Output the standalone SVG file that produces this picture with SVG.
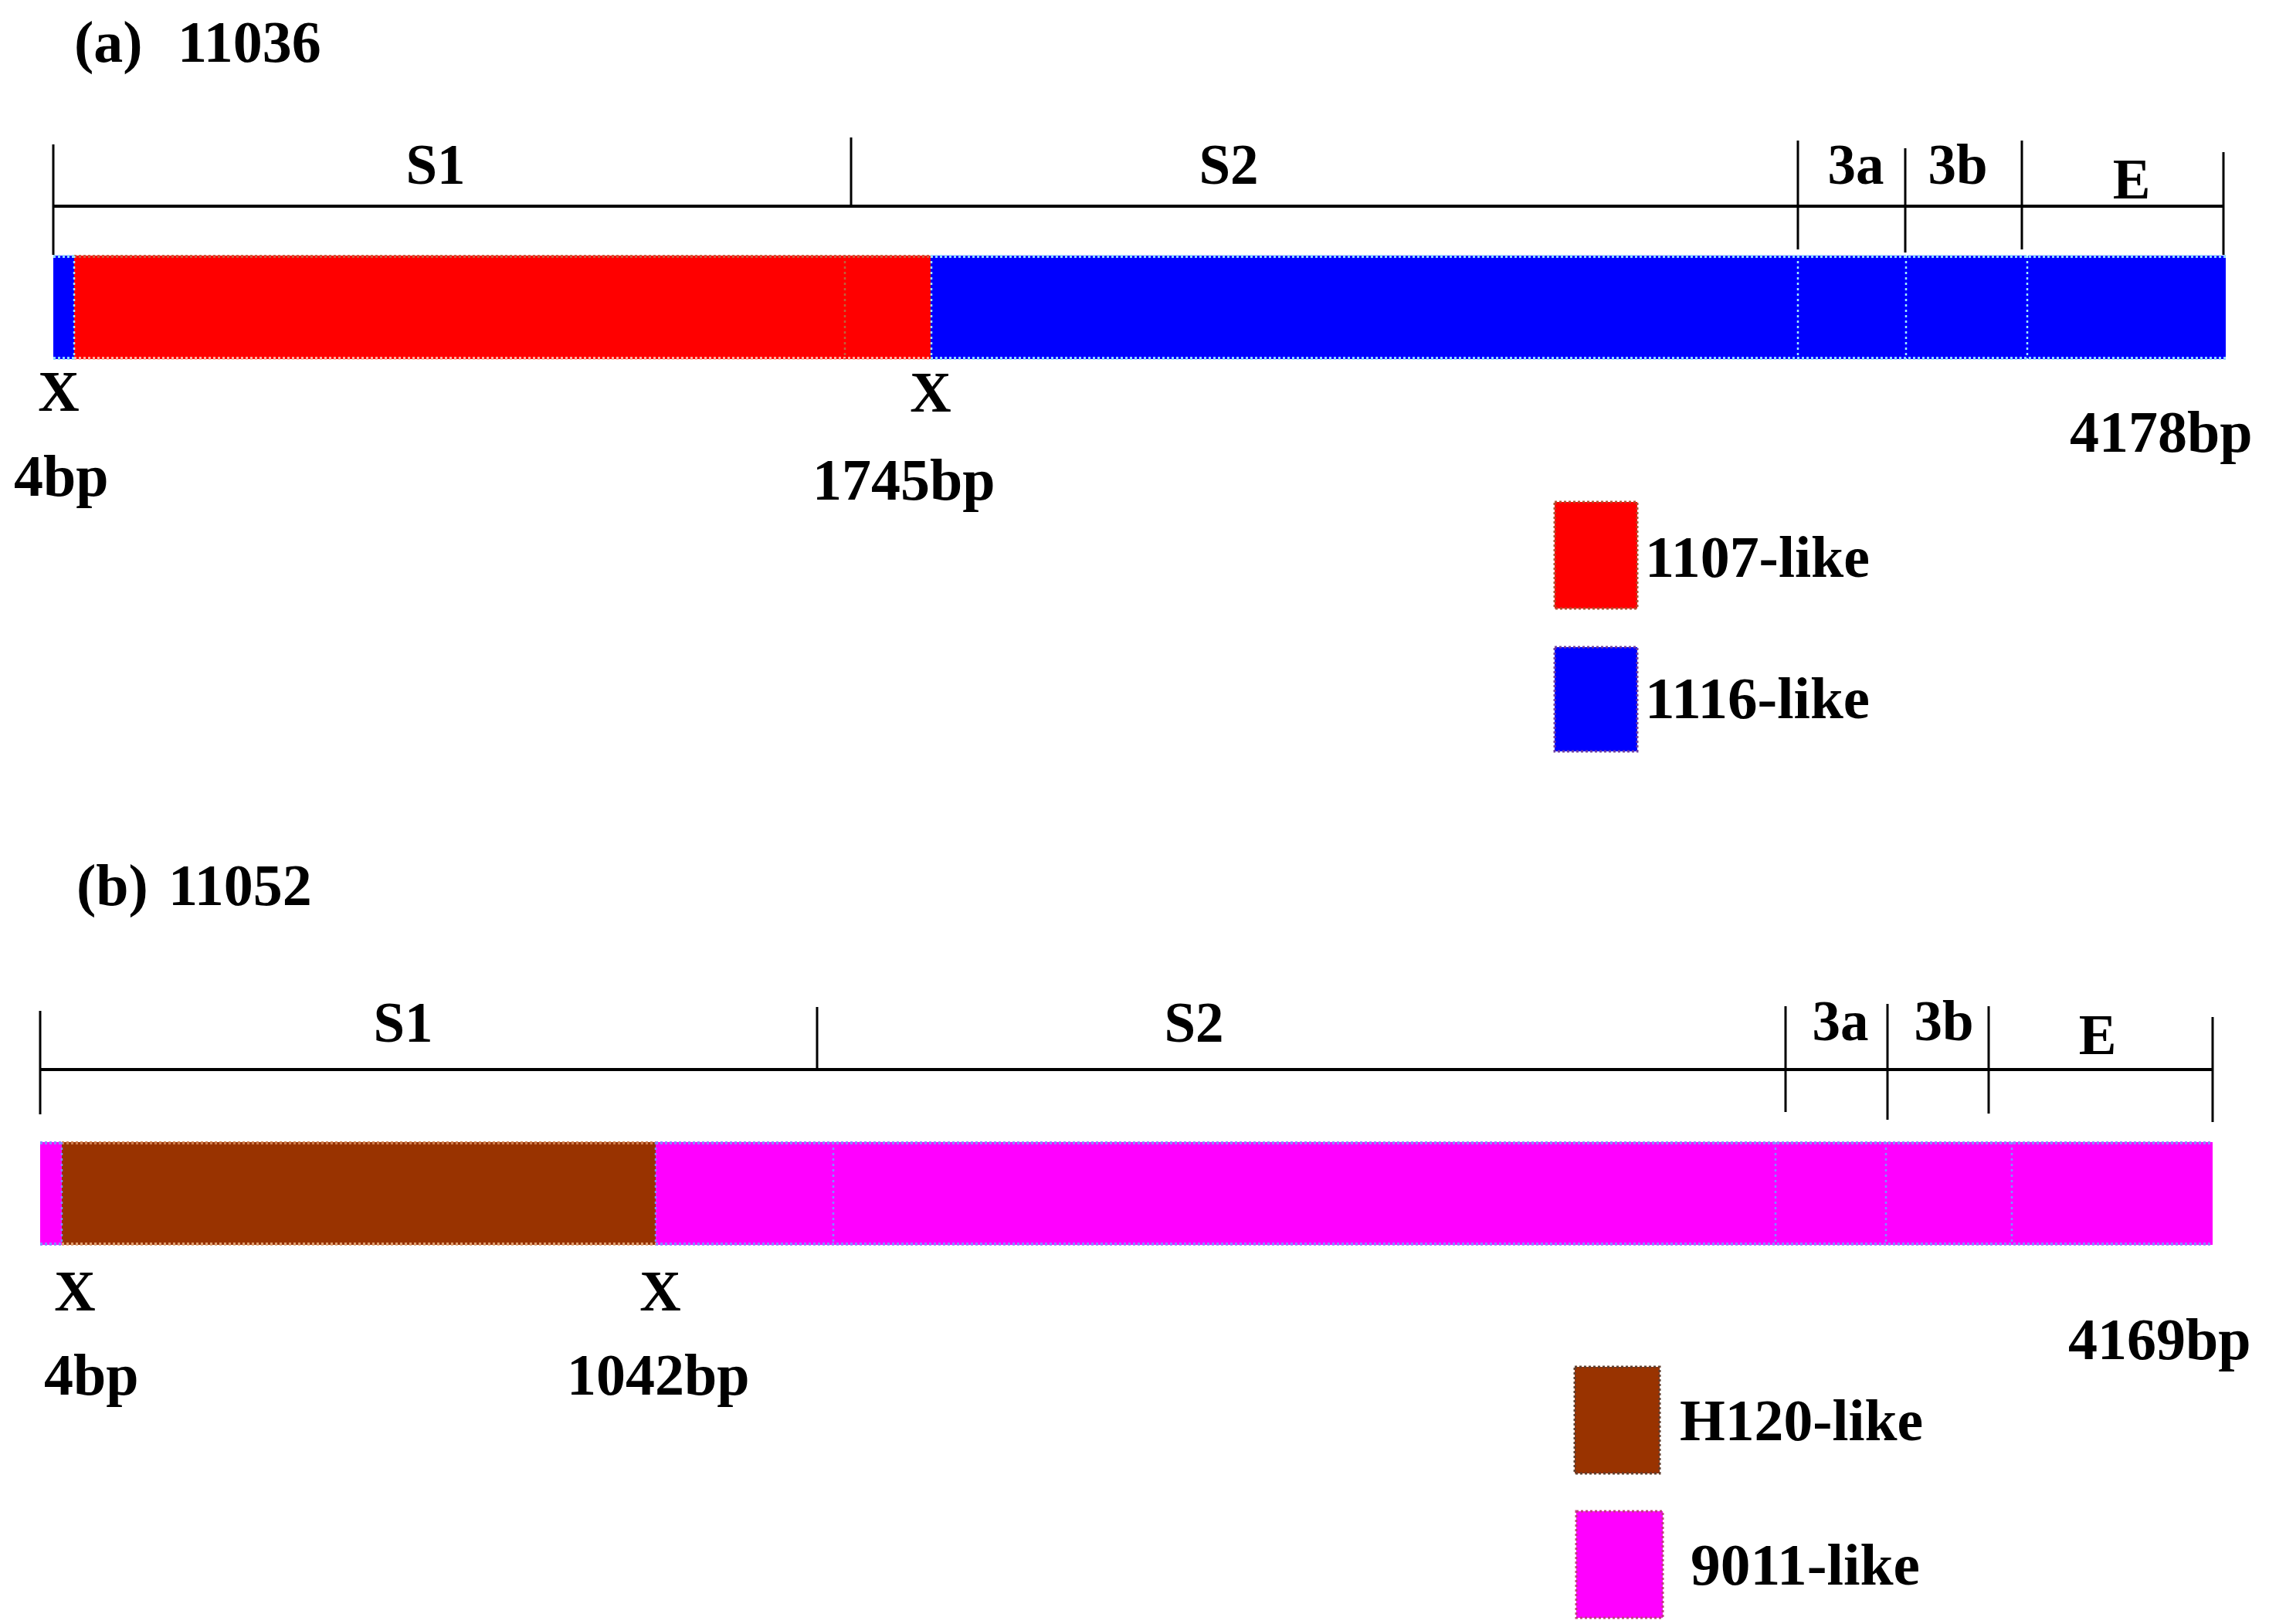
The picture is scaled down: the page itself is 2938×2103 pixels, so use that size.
<svg xmlns="http://www.w3.org/2000/svg" width="2938" height="2103" viewBox="0 0 2938 2103">
<style>
text{font-family:"Liberation Serif","Times New Roman",serif;font-weight:bold;fill:#000}
.t{font-size:76px}
.s{font-size:73px;text-anchor:middle}
.m{font-size:76px}
.x{font-size:74px;text-anchor:middle}
.tick{stroke:#000;stroke-width:3;fill:none}
.axis{stroke:#000;stroke-width:4;fill:none}
.dotb{stroke:#9fe8ff;stroke-width:2.5;stroke-dasharray:3 4;fill:none}
.dotr{stroke:#c0603a;stroke-width:2.5;stroke-dasharray:3 4;fill:none}
.dotm{stroke:#7f8cff;stroke-width:2.5;stroke-dasharray:3 4;fill:none}
.edge{stroke-width:4;stroke-dasharray:3 3;fill:none}
</style>
<rect width="2938" height="2103" fill="#fff"/>

<!-- Panel (a) -->
<g id="title-a"><text class="t" x="96" y="80">(a)<tspan x="230">11036</tspan></text></g>

<g id="scale-a">
<line class="axis" x1="69" y1="267" x2="2879" y2="267"/>
<line class="tick" x1="69" y1="187" x2="69" y2="330"/>
<line class="tick" x1="1102" y1="178" x2="1102" y2="267"/>
<line class="tick" x1="2328" y1="182" x2="2328" y2="323"/>
<line class="tick" x1="2467" y1="192" x2="2467" y2="327"/>
<line class="tick" x1="2618" y1="182" x2="2618" y2="323"/>
<line class="tick" x1="2879" y1="197" x2="2879" y2="330"/>
<text class="s" x="564" y="238">S1</text>
<text class="s" x="1591" y="238">S2</text>
<text class="s" x="2403" y="238">3a</text>
<text class="s" x="2535" y="238">3b</text>
<text class="s" x="2760" y="257">E</text>
</g>

<g id="bar-a">
<rect x="69" y="331" width="27" height="134" fill="#0000ff"/>
<rect x="96" y="331" width="1109" height="134" fill="#ff0000"/>
<rect x="1205" y="331" width="1677" height="134" fill="#0000ff"/>
<line class="edge" x1="69" y1="332" x2="96" y2="332" stroke="#8fd8ff"/>
<line class="edge" x1="96" y1="332" x2="1205" y2="332" stroke="#d05a3a"/>
<line class="edge" x1="1205" y1="332" x2="2882" y2="332" stroke="#8fd8ff"/>
<line class="edge" x1="69" y1="464" x2="96" y2="464" stroke="#8fd8ff"/>
<line class="edge" x1="96" y1="464" x2="1205" y2="464" stroke="#ffb0a0"/>
<line class="edge" x1="1205" y1="464" x2="2882" y2="464" stroke="#8fd8ff"/>
<line class="dotb" x1="96" y1="331" x2="96" y2="465"/>
<line class="dotr" x1="1094" y1="331" x2="1094" y2="465"/>
<line class="dotb" x1="1206" y1="331" x2="1206" y2="465"/>
<line class="dotb" x1="2328" y1="331" x2="2328" y2="465"/>
<line class="dotb" x1="2468" y1="331" x2="2468" y2="465"/>
<line class="dotb" x1="2625" y1="331" x2="2625" y2="465"/>
</g>

<g id="marks-a">
<text class="x" x="76" y="532">X</text>
<text class="x" x="1205" y="533">X</text>
<text class="m" x="18" y="642">4bp</text>
<text class="m" x="1052" y="647">1745bp</text>
<text class="m" x="2680" y="585">4178bp</text>
</g>

<g id="legend-a">
<rect x="2013" y="650" width="107" height="138" fill="#ff0000" stroke="#b05030" stroke-width="3" stroke-dasharray="3 3"/>
<text class="m" x="2130" y="747" textLength="291" lengthAdjust="spacingAndGlyphs">1107-like</text>
<rect x="2013" y="838" width="107" height="135" fill="#0000ff" stroke="#7040a0" stroke-width="3" stroke-dasharray="3 3"/>
<text class="m" x="2130" y="930" textLength="291" lengthAdjust="spacingAndGlyphs">1116-like</text>
</g>

<!-- Panel (b) -->
<g id="title-b"><text class="t" x="99" y="1172">(b)<tspan x="218">11052</tspan></text></g>

<g id="scale-b">
<line class="axis" x1="52" y1="1385" x2="2865" y2="1385"/>
<line class="tick" x1="52" y1="1309" x2="52" y2="1443"/>
<line class="tick" x1="1058" y1="1304" x2="1058" y2="1385"/>
<line class="tick" x1="2312" y1="1303" x2="2312" y2="1440"/>
<line class="tick" x1="2444" y1="1300" x2="2444" y2="1450"/>
<line class="tick" x1="2575" y1="1303" x2="2575" y2="1442"/>
<line class="tick" x1="2865" y1="1317" x2="2865" y2="1453"/>
<text class="s" x="522" y="1349">S1</text>
<text class="s" x="1546" y="1349">S2</text>
<text class="s" x="2383" y="1347">3a</text>
<text class="s" x="2517" y="1347">3b</text>
<text class="s" x="2716" y="1365">E</text>
</g>

<g id="bar-b">
<rect x="52" y="1479" width="28" height="133" fill="#ff00ff"/>
<rect x="80" y="1479" width="769" height="133" fill="#993300"/>
<rect x="849" y="1479" width="2016" height="133" fill="#ff00ff"/>
<line class="edge" x1="52" y1="1480" x2="80" y2="1480" stroke="#8a8cff"/>
<line class="edge" x1="80" y1="1480" x2="849" y2="1480" stroke="#d08050"/>
<line class="edge" x1="849" y1="1480" x2="2865" y2="1480" stroke="#8a8cff"/>
<line class="edge" x1="52" y1="1611" x2="80" y2="1611" stroke="#8a8cff"/>
<line class="edge" x1="80" y1="1611" x2="849" y2="1611" stroke="#e0a070"/>
<line class="edge" x1="849" y1="1611" x2="2865" y2="1611" stroke="#8a8cff"/>
<line class="dotm" x1="80" y1="1479" x2="80" y2="1612"/>
<line class="dotm" x1="849" y1="1479" x2="849" y2="1612"/>
<line class="dotm" x1="1079" y1="1479" x2="1079" y2="1612"/>
<line class="dotm" x1="2299" y1="1479" x2="2299" y2="1612"/>
<line class="dotm" x1="2442" y1="1479" x2="2442" y2="1612"/>
<line class="dotm" x1="2605" y1="1479" x2="2605" y2="1612"/>
</g>

<g id="marks-b">
<text class="x" x="97" y="1697">X</text>
<text class="x" x="855" y="1697">X</text>
<text class="m" x="57" y="1806">4bp</text>
<text class="m" x="734" y="1806">1042bp</text>
<text class="m" x="2678" y="1760">4169bp</text>
</g>

<g id="legend-b">
<rect x="2039" y="1770" width="110" height="138" fill="#993300" stroke="#604030" stroke-width="3" stroke-dasharray="3 3"/>
<text class="m" x="2175" y="1865" textLength="315" lengthAdjust="spacingAndGlyphs">H120-like</text>
<rect x="2041" y="1957" width="112" height="138" fill="#ff00ff" stroke="#c04080" stroke-width="3" stroke-dasharray="3 3"/>
<text class="m" x="2189" y="2052" textLength="297" lengthAdjust="spacingAndGlyphs">9011-like</text>
</g>
</svg>
